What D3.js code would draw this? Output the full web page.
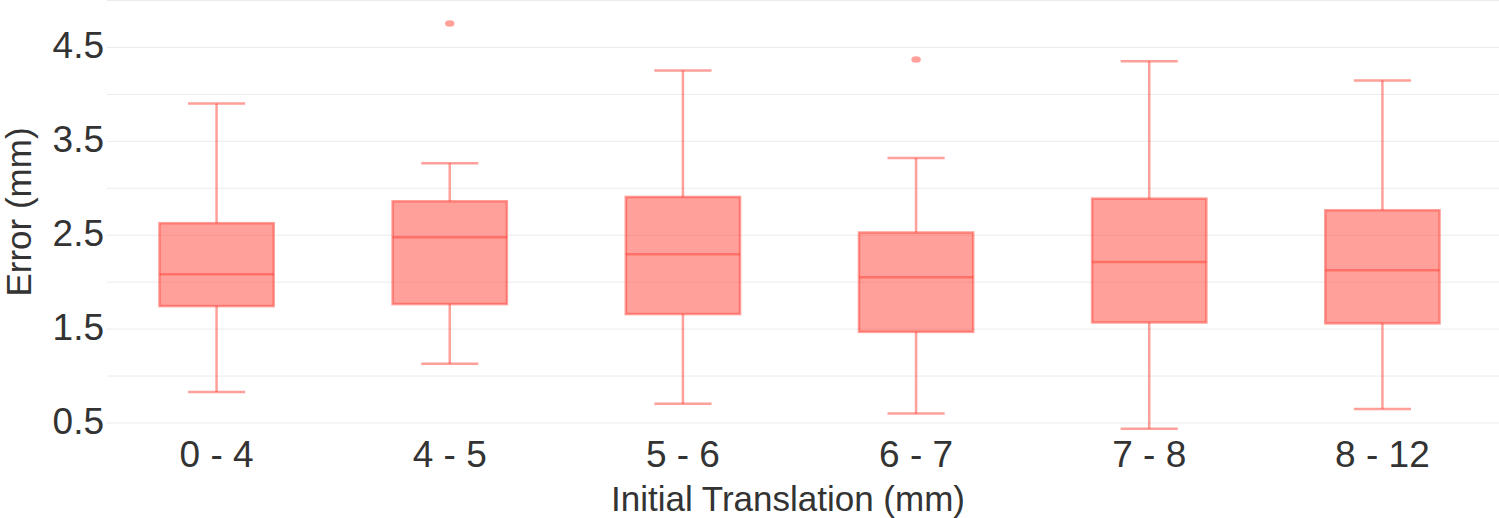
<!DOCTYPE html>
<html>
<head>
    <script src="https://d3js.org/d3.v7.min.js" charset="utf-8"></script>
    <style>
        body { margin: 0; background: #fff; }
        text { font-family: "Liberation Sans", Arial, sans-serif; fill: #333; }
    </style>
</head>
<body>
    <script>
        // values
        var categories = ["0 - 4", "4 - 5", "5 - 6", "6 - 7", "7 - 8", "8 - 12"];
        var whiskerLow = [0.83, 1.13, 0.705, 0.6, 0.44, 0.65];
        var q1 = [1.745, 1.766, 1.66, 1.471, 1.571, 1.561];
        var median = [2.085, 2.479, 2.298, 2.053, 2.216, 2.128];
        var q3 = [2.628, 2.862, 2.908, 2.529, 2.89, 2.766];
        var whiskerHigh = [3.904, 3.266, 4.255, 3.322, 4.354, 4.149];
        var outlierCat = ["4 - 5", "6 - 7"];
        var outlierVal = [4.755, 4.372];
        var gridValues = [0.5, 1, 1.5, 2, 2.5, 3, 3.5, 4, 4.5, 5];
        var tickValues = [0.5, 1.5, 2.5, 3.5, 4.5];

        var W = 1499, H = 518;
        var color = "rgb(255,65,54)";

        var svg = d3.select("body")
            .append("svg")
            .attr("width", W)
            .attr("height", H);

        var x = d3.scaleBand().domain(categories).range([100, 1499]);
        var y = d3.scaleLinear().domain([0.5, 5.0]).range([423, 0.5]);
        var boxW = x.bandwidth() * 0.49;
        var capW = boxW / 2;

        // grid
        svg.append("g").selectAll("line")
            .data(gridValues)
            .enter().append("line")
            .attr("x1", 107).attr("x2", W)
            .attr("y1", function (d) { return y(d); })
            .attr("y2", function (d) { return y(d); })
            .style("stroke", "#ebebeb")
            .style("stroke-width", 1);

        // y axis labels
        svg.append("g").selectAll("text")
            .data(tickValues)
            .enter().append("text")
            .attr("x", 104)
            .attr("y", function (d) { return y(d) + 11; })
            .attr("text-anchor", "end")
            .style("font-size", "37px")
            .text(function (d) { return d3.format(".1f")(d); });

        // x axis labels
        svg.append("g").selectAll("text")
            .data(categories)
            .enter().append("text")
            .attr("x", function (d) { return x(d) + x.bandwidth() / 2; })
            .attr("y", 467)
            .attr("text-anchor", "middle")
            .style("font-size", "37px")
            .text(function (d) { return d; });

        svg.append("text")
            .attr("x", 788).attr("y", 511)
            .attr("text-anchor", "middle")
            .style("font-size", "35px")
            .text("Initial Translation (mm)");

        svg.append("text")
            .attr("transform", "translate(31,212) rotate(-90)")
            .attr("text-anchor", "middle")
            .style("font-size", "35px")
            .text("Error (mm)");

        // boxes
        var rows = categories.map(function (c, i) {
            return { cat: c, lo: whiskerLow[i], q1: q1[i], med: median[i], q3: q3[i], hi: whiskerHigh[i] };
        });

        var g = svg.append("g").selectAll("g")
            .data(rows)
            .enter().append("g")
            .attr("transform", function (d) { return "translate(" + (x(d.cat) + x.bandwidth() / 2) + ",0)"; });

        var lineStyle = function (sel) {
            sel.style("stroke", color).style("stroke-opacity", 0.5).style("stroke-width", 2.5).style("fill", "none");
        };

        g.append("line")
            .attr("x1", 0).attr("x2", 0)
            .attr("y1", function (d) { return y(d.q3); })
            .attr("y2", function (d) { return y(d.hi); })
            .call(lineStyle);
        g.append("line")
            .attr("x1", 0).attr("x2", 0)
            .attr("y1", function (d) { return y(d.q1); })
            .attr("y2", function (d) { return y(d.lo); })
            .call(lineStyle);
        g.append("line")
            .attr("x1", -capW / 2).attr("x2", capW / 2)
            .attr("y1", function (d) { return y(d.hi); })
            .attr("y2", function (d) { return y(d.hi); })
            .call(lineStyle);
        g.append("line")
            .attr("x1", -capW / 2).attr("x2", capW / 2)
            .attr("y1", function (d) { return y(d.lo); })
            .attr("y2", function (d) { return y(d.lo); })
            .call(lineStyle);

        g.append("rect")
            .attr("x", -boxW / 2)
            .attr("width", boxW)
            .attr("y", function (d) { return y(d.q3); })
            .attr("height", function (d) { return y(d.q1) - y(d.q3); })
            .style("fill", color).style("fill-opacity", 0.5)
            .style("stroke", color).style("stroke-opacity", 0.5).style("stroke-width", 2.5);

        g.append("line")
            .attr("x1", -boxW / 2).attr("x2", boxW / 2)
            .attr("y1", function (d) { return y(d.med); })
            .attr("y2", function (d) { return y(d.med); })
            .call(lineStyle);

        // outliers
        svg.append("g").selectAll("ellipse")
            .data(outlierVal)
            .enter().append("ellipse")
            .attr("cx", function (d, i) { return x(outlierCat[i]) + x.bandwidth() / 2; })
            .attr("cy", function (d) { return y(d); })
            .attr("rx", 4.7).attr("ry", 3.3)
            .style("fill", color).style("fill-opacity", 0.5);
    </script>
</body>
</html>
